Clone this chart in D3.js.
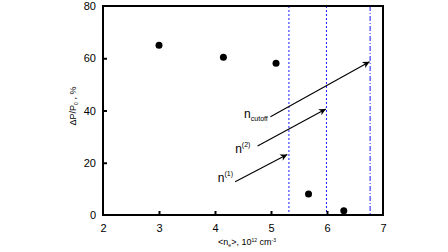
<!DOCTYPE html>
<html><head><meta charset="utf-8">
<script src="https://cdn.jsdelivr.net/npm/d3@7"></script>
<style>body{margin:0;background:#fff}svg{display:block;font-family:"Liberation Sans",Arial,sans-serif}</style>
</head><body>
<svg width="448" height="252"></svg>
<script>
const xTicks = [2,3,4,5,6,7];
const yTicks = [0,20,40,60,80];
const pointsX = [3.0, 4.15, 5.09, 5.67, 6.30];
const pointsY = [65.0, 60.4, 58.1, 8.0, 1.6];
const vlineX = [5.32, 5.99, 6.77];
const vlineStyle = ["dot","dot","dashdot"];
const arrowFromX = [4.36, 4.76, 4.99];
const arrowFromY = [12.7, 26.4, 37.6];
const arrowToX = [5.29, 5.98, 6.76];
const arrowToY = [23.2, 40.6, 58.7];
const labelX = [4.05, 4.36, 4.52];
const labelY = [12.6, 23.7, 37.1];
const labelMain = ["n","n","n"];
const labelSup = ["(1)","(2)",""];
const labelSub = ["","","cutoff"];

const svg = d3.select("svg");
const x = d3.scaleLinear().domain([2,7]).range([103,383]);
const y = d3.scaleLinear().domain([0,80]).range([215,6]);

svg.append("defs").append("marker").attr("id","ah").attr("viewBox","0 0 10 10")
  .attr("refX",10).attr("refY",5).attr("markerWidth",9).attr("markerHeight",7)
  .attr("markerUnits","userSpaceOnUse").attr("orient","auto")
  .append("path").attr("d","M0,0 L10,5 L0,10 L3,5 Z").attr("fill","#000");

// vertical lines
vlineX.forEach((v,i)=>{
  svg.append("line").attr("x1",x(v)).attr("x2",x(v)).attr("y1",y(80)).attr("y2",y(0))
    .attr("stroke","#1a1aff").attr("stroke-width",1)
    .attr("stroke-dasharray", vlineStyle[i]==="dot" ? "2,2" : "5,2,1,2");
});

// frame
svg.append("rect").attr("x",x(2)).attr("y",y(80)).attr("width",x(7)-x(2)).attr("height",y(0)-y(80))
  .attr("fill","none").attr("stroke","#000").attr("stroke-width",2);

// axes ticks
const xa = d3.axisBottom(x).tickValues(xTicks).tickSizeInner(-4).tickSizeOuter(0).tickPadding(9).tickFormat(d3.format("d"));
const gx = svg.append("g").attr("transform",`translate(0,${y(0)})`).call(xa);
gx.select(".domain").remove();
gx.selectAll(".tick line").attr("stroke-width",2).filter(d=>d===2||d===7).remove();
gx.selectAll("text").attr("font-size",11).attr("fill","#000");

const ya = d3.axisLeft(y).tickValues(yTicks).tickSizeInner(-4).tickSizeOuter(0).tickPadding(7);
const gy = svg.append("g").attr("transform",`translate(${x(2)},0)`).call(ya);
gy.select(".domain").remove();
gy.selectAll(".tick line").attr("stroke-width",2).filter(d=>d===0||d===80).remove();
gy.selectAll("text").attr("font-size",11).attr("fill","#000");

// points
svg.selectAll("circle.p").data(pointsX).enter().append("circle")
  .attr("cx",(d)=>x(d)).attr("cy",(d,i)=>y(pointsY[i])).attr("r",3.5).attr("fill","#000");

// arrows
arrowFromX.forEach((v,i)=>{
  svg.append("line").attr("x1",x(v)).attr("y1",y(arrowFromY[i]))
    .attr("x2",x(arrowToX[i])).attr("y2",y(arrowToY[i]))
    .attr("stroke","#000").attr("stroke-width",1.1).attr("marker-end","url(#ah)");
  const t = svg.append("text").attr("x",x(labelX[i])).attr("y",y(labelY[i]))
    .attr("font-size",12).attr("fill","#000");
  t.append("tspan").text(labelMain[i]);
  if(labelSup[i]) t.append("tspan").attr("dy",-6).attr("font-size",7).text(labelSup[i]);
  if(labelSub[i]) t.append("tspan").attr("dy",3).attr("font-size",7).text(labelSub[i]);
});

// axis titles
const xt = svg.append("text").attr("x",247).attr("y",245).attr("text-anchor","middle").attr("font-size",9).attr("fill","#000");
xt.append("tspan").text("<n");
xt.append("tspan").attr("dy",2).attr("font-size",5).text("e");
xt.append("tspan").attr("dy",-2).text(">, 10");
xt.append("tspan").attr("dy",-3).attr("font-size",5).text("12");
xt.append("tspan").attr("dy",3).text(" cm");
xt.append("tspan").attr("dy",-3).attr("font-size",5).text("-3");

const yt = svg.append("text").attr("transform","translate(76,106) rotate(-90)").attr("text-anchor","middle").attr("font-size",9).attr("fill","#000");
yt.append("tspan").text("ΔP/P");
yt.append("tspan").attr("dy",2).attr("font-size",5).text("0");
yt.append("tspan").attr("dy",-2).text(" , %");
</script>
</body></html>
